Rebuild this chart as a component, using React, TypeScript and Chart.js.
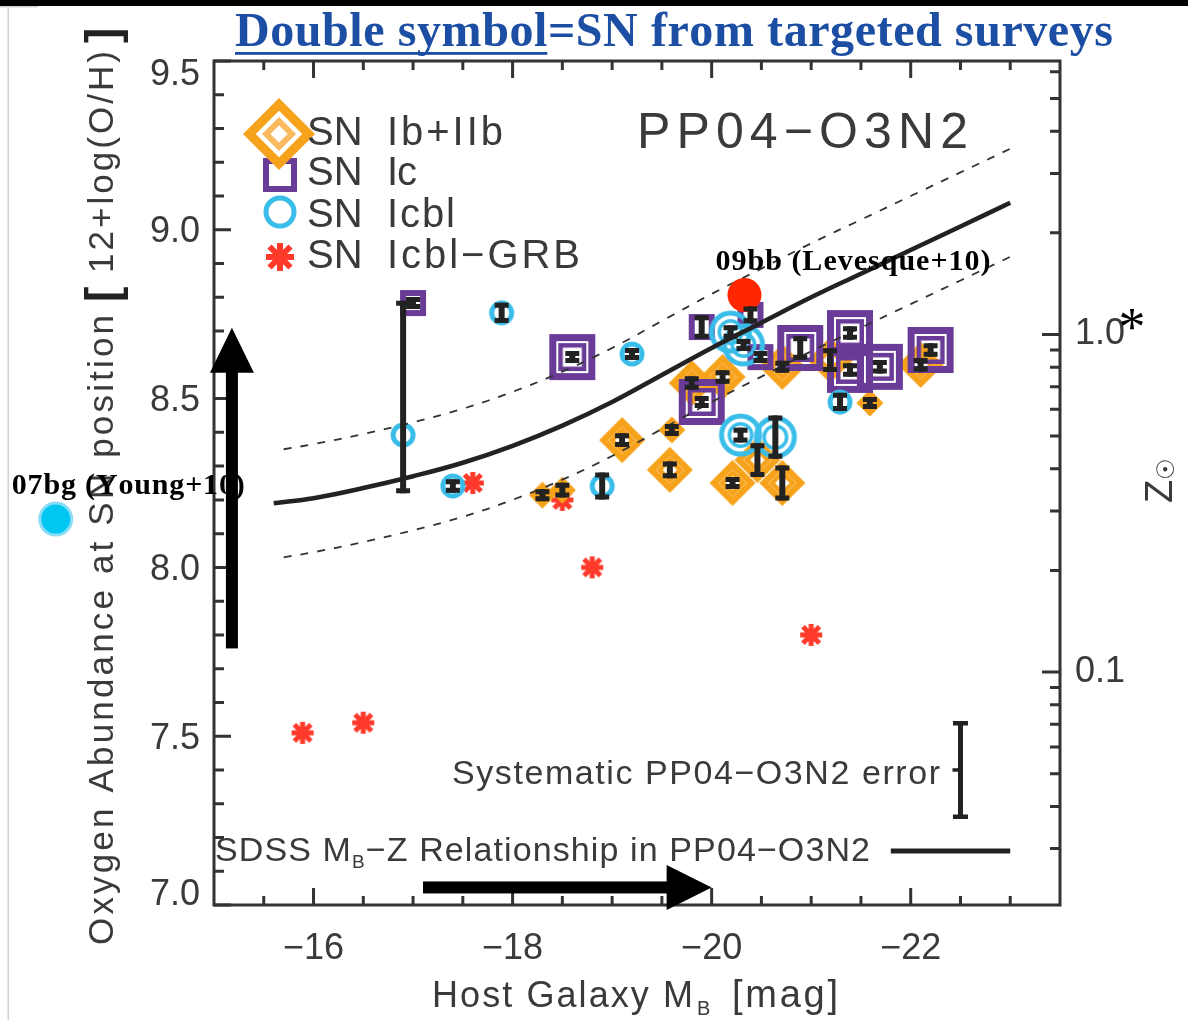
import React, { useEffect, useRef } from 'react';
import { Chart, registerables } from 'chart.js';

Chart.register(...registerables);

const W = 1188;
const H = 1020;

// ---------------- axes ----------------
const X_MIN = -23.5;
const X_MAX = -15.0;
const Y_MIN = 7.0;
const Y_MAX = 9.5;
const OH_SOLAR = 8.69;
const X_TICK_LABELS = [-16, -18, -20, -22];
const X_MINOR_TICKS = [-15.5, -16.5, -17, -17.5, -18.5, -19, -19.5, -20.5, -21, -21.5, -22.5, -23];
const Y_TICK_LABELS = [7.0, 7.5, 8.0, 8.5, 9.0, 9.5];
const Y_MINOR_TICKS = [7.1, 7.2, 7.3, 7.4, 7.6, 7.7, 7.8, 7.9, 8.1, 8.2, 8.3, 8.4, 8.6, 8.7, 8.8, 8.9, 9.1, 9.2, 9.3, 9.4];
const Z_TICK_LABELS = [0.1, 1.0];
const Z_MINOR_TICKS = [0.03, 0.04, 0.05, 0.06, 0.07, 0.08, 0.09, 0.2, 0.3, 0.4, 0.5, 0.6, 0.7, 0.8, 0.9, 2, 3, 4, 5, 6];

// ---------------- SDSS M_B - Z relation ----------------
const CURVE_MB = [-15.6, -16.0, -16.5, -17.0, -17.5, -18.0, -18.5, -19.0, -19.5, -20.0, -20.5, -21.0, -21.5, -22.0, -22.5, -23.0];
const CURVE_OH = [8.19, 8.205, 8.235, 8.27, 8.31, 8.36, 8.42, 8.49, 8.57, 8.65, 8.725, 8.80, 8.87, 8.94, 9.01, 9.08];
const BAND_MB = [-15.7, -16.0, -16.5, -17.0, -17.5, -18.0, -18.5, -19.0, -19.5, -20.0, -20.5, -21.0, -21.5, -22.0, -22.5, -23.0];
const UPPER_OH = [8.35, 8.365, 8.395, 8.43, 8.47, 8.52, 8.58, 8.65, 8.73, 8.81, 8.885, 8.96, 9.03, 9.10, 9.17, 9.24];
const LOWER_OH = [8.03, 8.045, 8.075, 8.11, 8.15, 8.20, 8.26, 8.33, 8.41, 8.49, 8.565, 8.64, 8.71, 8.78, 8.85, 8.92];

// ---------------- SN Ib + IIb ----------------
const IB_MB = [-18.30, -18.50, -19.10, -19.60, -19.58, -19.80, -20.11, -20.21, -20.46, -20.71, -20.71, -21.19, -21.59, -22.10];
const IB_OH = [8.214, 8.229, 8.377, 8.407, 8.289, 8.546, 8.564, 8.250, 8.318, 8.250, 8.594, 8.614, 8.487, 8.600];
const IB_TARGETED = [0, 0, 1, 0, 1, 1, 1, 1, 1, 1, 1, 1, 0, 1];
const IB_ERR = [0.015, 0.022, 0.02, 0.015, 0.025, 0.02, 0.02, 0.015, 0.05, 0.052, 0.015, 0.035, 0.015, 0.02];

// ---------------- SN Ic ----------------
const IC_MB = [-17.00, -18.60, -19.90, -20.39, -19.90, -20.49, -20.89, -21.39, -21.39, -21.69, -22.20];
const IC_OH = [8.783, 8.623, 8.712, 8.748, 8.490, 8.623, 8.650, 8.694, 8.585, 8.594, 8.644];
const IC_TARGETED = [0, 1, 0, 0, 1, 0, 1, 1, 1, 1, 1];
const IC_ERR = [0.015, 0.015, 0.035, 0.025, 0.015, 0.015, 0.035, 0.02, 0.02, 0.02, 0.02];

// ---------------- SN Icbl ----------------
const ICBL_MB = [-16.90, -17.89, -17.40, -19.20, -18.90, -20.19, -20.32, -20.29, -20.64, -21.29];
const ICBL_OH = [8.392, 8.754, 8.241, 8.632, 8.241, 8.697, 8.659, 8.392, 8.386, 8.490];
const ICBL_TARGETED = [0, 0, 0, 0, 0, 1, 1, 1, 1, 0];
const ICBL_ERR = [0, 0.03, 0.02, 0.015, 0.04, 0.02, 0.015, 0.022, 0.064, 0.027];

// ---------------- SN Icbl-GRB ----------------
const GRB_MB = [-15.89, -16.50, -17.60, -18.50, -18.80, -21.00];
const GRB_OH = [7.51, 7.54, 8.25, 8.20, 8.00, 7.80];

// ---------------- range bar, systematic error, special SNe ----------------
const RANGE_MB = [-16.9];
const RANGE_LO = [8.22];
const RANGE_HI = [8.79];
const SYS_MB = -22.5;
const SYS_OH = 7.40;
const SYS_ERR = 0.145;
const SN09BB_MB = [-20.33];
const SN09BB_OH = [8.807];
const SN07BG_MB = -13.41;
const SN07BG_OH = 8.143;
const SDSS_KEY_MB = [-21.8, -23.0];
const SDSS_KEY_OH = 7.16;
const ARROW_UP_MB = -15.18;
const ARROW_UP_OH = [7.76, 8.71];
const ARROW_RIGHT_OH = 7.052;
const ARROW_RIGHT_MB = [-17.1, -20.0];

// ---------------- styles ----------------
const SANS = "'Liberation Sans', Arial, Helvetica, sans-serif";
const SERIF = "'Liberation Serif', 'Times New Roman', serif";
const TEXT = '#3a3a3a';
const AXIS = '#333333';
const INK = '#222222';
const ORANGE = '#F7A21B';
const ORANGE_LIGHT = '#FBBA5E';
const PURPLE = '#6A3B97';
const BLUE = '#3ABDE9';
const RED = '#FF3A2A';
const TITLE_BLUE = '#1C4EA3';

// ---------------- drawing helpers ----------------
function diamondPath(g: CanvasRenderingContext2D, cx: number, cy: number, h: number) {
  g.beginPath();
  g.moveTo(cx, cy - h);
  g.lineTo(cx + h, cy);
  g.lineTo(cx, cy + h);
  g.lineTo(cx - h, cy);
  g.closePath();
}
function strokeDiamond(g: CanvasRenderingContext2D, cx: number, cy: number, ext: number, lw: number, color: string) {
  g.lineJoin = 'miter';
  g.lineWidth = lw;
  g.strokeStyle = color;
  diamondPath(g, cx, cy, ext - lw * Math.SQRT1_2);
  g.stroke();
}
function fillDiamond(g: CanvasRenderingContext2D, cx: number, cy: number, ext: number, color: string) {
  g.fillStyle = color;
  diamondPath(g, cx, cy, ext);
  g.fill();
}
function strokeSquare(g: CanvasRenderingContext2D, cx: number, cy: number, ext: number, lw: number, color: string) {
  const h = ext - lw / 2;
  g.lineJoin = 'miter';
  g.lineWidth = lw;
  g.strokeStyle = color;
  g.strokeRect(cx - h, cy - h, 2 * h, 2 * h);
}
function strokeCircle(g: CanvasRenderingContext2D, cx: number, cy: number, ext: number, lw: number, color: string) {
  g.lineWidth = lw;
  g.strokeStyle = color;
  g.beginPath();
  g.arc(cx, cy, ext - lw / 2, 0, Math.PI * 2);
  g.stroke();
}
function drawStar(g: CanvasRenderingContext2D, cx: number, cy: number, half: number, lw: number, color: string) {
  const d = half * 0.75;
  g.lineWidth = lw;
  g.strokeStyle = color;
  g.lineCap = 'butt';
  g.beginPath();
  g.moveTo(cx - half, cy); g.lineTo(cx + half, cy);
  g.moveTo(cx, cy - half); g.lineTo(cx, cy + half);
  g.moveTo(cx - d, cy - d); g.lineTo(cx + d, cy + d);
  g.moveTo(cx - d, cy + d); g.lineTo(cx + d, cy - d);
  g.stroke();
}
function mk(size: number, fn: (g: CanvasRenderingContext2D, cx: number, cy: number) => void) {
  const c = document.createElement('canvas');
  c.width = size;
  c.height = size;
  const g = c.getContext('2d') as CanvasRenderingContext2D;
  fn(g, size / 2, size / 2);
  return c;
}
function buildMarkers() {
  return {
    diamondD: mk(52, (g, cx, cy) => { strokeDiamond(g, cx, cy, 23, 6.5, ORANGE); strokeDiamond(g, cx, cy, 13.5, 4.5, ORANGE); }),
    diamondS: mk(32, (g, cx, cy) => { fillDiamond(g, cx, cy, 13.5, ORANGE); }),
    squareD: mk(52, (g, cx, cy) => { strokeSquare(g, cx, cy, 23, 7, PURPLE); strokeSquare(g, cx, cy, 14, 4.5, PURPLE); }),
    squareS: mk(32, (g, cx, cy) => { strokeSquare(g, cx, cy, 13, 6, PURPLE); }),
    circleD: mk(52, (g, cx, cy) => { strokeCircle(g, cx, cy, 21.5, 5, BLUE); strokeCircle(g, cx, cy, 13, 3.5, BLUE); }),
    circleS: mk(32, (g, cx, cy) => { strokeCircle(g, cx, cy, 12.5, 5, BLUE); }),
    star: mk(32, (g, cx, cy) => { drawStar(g, cx, cy, 11, 5, RED); }),
  };
}

function charsWidth(ctx: CanvasRenderingContext2D, s: string) {
  let w = 0;
  for (const ch of Array.from(s)) w += ctx.measureText(ch).width;
  return w;
}
function lsFor(ctx: CanvasRenderingContext2D, s: string, target: number) {
  const n = Array.from(s).length;
  return n > 1 ? (target - charsWidth(ctx, s)) / (n - 1) : 0;
}
function drawLS(ctx: CanvasRenderingContext2D, s: string, x: number, y: number, ls: number) {
  let cx = x;
  for (const ch of Array.from(s)) {
    ctx.fillText(ch, cx, y);
    cx += ctx.measureText(ch).width + ls;
  }
  return cx - ls;
}
function errBar(ctx: CanvasRenderingContext2D, px: number, top: number, bot: number, capW: number, lw: number, capLw: number) {
  ctx.strokeStyle = INK;
  ctx.lineCap = 'butt';
  ctx.lineWidth = lw;
  ctx.beginPath();
  ctx.moveTo(px, top);
  ctx.lineTo(px, bot);
  ctx.stroke();
  ctx.lineWidth = capLw;
  ctx.beginPath();
  ctx.moveTo(px - capW / 2, top + capLw / 2);
  ctx.lineTo(px + capW / 2, top + capLw / 2);
  ctx.moveTo(px - capW / 2, bot - capLw / 2);
  ctx.lineTo(px + capW / 2, bot - capLw / 2);
  ctx.stroke();
}

const decorPlugin = {
  id: 'decor',
  beforeDraw(chart: any) {
    const ctx: CanvasRenderingContext2D = chart.ctx;
    ctx.save();
    ctx.fillStyle = '#ffffff';
    ctx.fillRect(0, 0, W, H);
    ctx.fillStyle = '#000000';
    ctx.fillRect(0, 0, W, 6);
    ctx.fillStyle = '#d2d2d2';
    ctx.fillRect(7.5, 6, 1.5, H - 6);
    ctx.fillRect(0, 6, 38, 1.5);

    ctx.textAlign = 'left';
    ctx.textBaseline = 'alphabetic';

    // title
    ctx.font = `bold 48px ${SERIF}`;
    ctx.fillStyle = TITLE_BLUE;
    const title = 'Double symbol=SN from targeted surveys';
    const tls = lsFor(ctx, title, 878);
    const uEnd = drawLS(ctx, 'Double symbol', 235, 46, tls);
    drawLS(ctx, '=SN from targeted surveys', uEnd + tls, 46, tls);
    ctx.fillRect(235, 52, uEnd - 235, 2.8);

    // left axis title
    ctx.fillStyle = TEXT;
    ctx.save();
    ctx.translate(113, 945);
    ctx.rotate(-Math.PI / 2);
    ctx.font = `35px ${SANS}`;
    const p1 = 'Oxygen Abundance at SN position';
    drawLS(ctx, p1, 0, 0, lsFor(ctx, p1, 630));
    ctx.font = `bold 46px ${SANS}`;
    ctx.fillStyle = INK;
    ctx.fillText('[', 643, 5);
    ctx.fillStyle = TEXT;
    ctx.font = `35px ${SANS}`;
    const p2 = '12+log(O/H)';
    drawLS(ctx, p2, 672, 0, lsFor(ctx, p2, 222));
    ctx.font = `bold 46px ${SANS}`;
    ctx.fillStyle = INK;
    ctx.fillText(']', 902, 5);
    ctx.restore();

    // bottom axis title
    ctx.fillStyle = TEXT;
    ctx.font = `36px ${SANS}`;
    const xt = 'Host Galaxy M';
    drawLS(ctx, xt, 432, 1007, lsFor(ctx, xt, 261));
    ctx.font = `20px ${SANS}`;
    ctx.fillText('B', 697, 1015);
    ctx.font = `38px ${SANS}`;
    const xt2 = '[mag]';
    drawLS(ctx, xt2, 732, 1007, lsFor(ctx, xt2, 106));

    // right axis title
    ctx.save();
    ctx.translate(1172, 503);
    ctx.rotate(-Math.PI / 2);
    ctx.font = `38px ${SANS}`;
    ctx.fillText('Z', 0, 0);
    ctx.font = `24px 'DejaVu Sans', sans-serif`;
    ctx.textBaseline = 'middle';
    ctx.fillText('\u2609', 23, -4);
    ctx.restore();
    ctx.restore();
  },
  afterDatasetsDraw(chart: any) {
    const ctx: CanvasRenderingContext2D = chart.ctx;
    const xs = chart.scales.x;
    const ys = chart.scales.y;
    const zs = chart.scales.y2;
    const ca = chart.chartArea;
    ctx.save();

    // individual error bars
    chart.data.datasets.forEach((ds: any) => {
      if (!ds.yErr) return;
      ds.data.forEach((p: any, i: number) => {
        const e = ds.yErr[i];
        if (!e) return;
        const px = xs.getPixelForValue(p.x);
        const py = ys.getPixelForValue(p.y);
        const top = Math.min(ys.getPixelForValue(p.y + e), py - 6);
        const bot = Math.max(ys.getPixelForValue(p.y - e), py + 6);
        errBar(ctx, px, top, bot, 14, 6, 5);
      });
    });
    // range bar
    RANGE_MB.forEach((m, i) => {
      errBar(ctx, xs.getPixelForValue(m), ys.getPixelForValue(RANGE_HI[i]), ys.getPixelForValue(RANGE_LO[i]), 14, 6, 5);
    });

    // frame and inward ticks
    const L = ca.left, R = ca.right, T = ca.top, B = ca.bottom;
    ctx.strokeStyle = AXIS;
    ctx.lineWidth = 3;
    ctx.lineCap = 'butt';
    ctx.beginPath();
    X_TICK_LABELS.forEach((v) => { const p = xs.getPixelForValue(v); ctx.moveTo(p, B); ctx.lineTo(p, B - 17); ctx.moveTo(p, T); ctx.lineTo(p, T + 17); });
    X_MINOR_TICKS.forEach((v) => { const p = xs.getPixelForValue(v); ctx.moveTo(p, B); ctx.lineTo(p, B - 9); ctx.moveTo(p, T); ctx.lineTo(p, T + 9); });
    Y_TICK_LABELS.forEach((v) => { const p = ys.getPixelForValue(v); ctx.moveTo(L, p); ctx.lineTo(L + 17, p); });
    Y_MINOR_TICKS.forEach((v) => { const p = ys.getPixelForValue(v); ctx.moveTo(L, p); ctx.lineTo(L + 10, p); });
    Z_TICK_LABELS.forEach((v) => { const p = zs.getPixelForValue(v); ctx.moveTo(R, p); ctx.lineTo(R - 18, p); });
    Z_MINOR_TICKS.forEach((v) => { const p = zs.getPixelForValue(v); if (p > T && p < B) { ctx.moveTo(R, p); ctx.lineTo(R - 10, p); } });
    ctx.stroke();
    ctx.strokeRect(L, T, R - L, B - T);

    // legend
    strokeSquare(ctx, 280, 175, 17, 6, PURPLE);
    ctx.fillStyle = '#ffffff';
    diamondPath(ctx, 279, 134, 33);
    ctx.fill();
    strokeDiamond(ctx, 279, 134, 36, 9, ORANGE);
    strokeDiamond(ctx, 279, 134, 17, 6, ORANGE_LIGHT);
    strokeCircle(ctx, 280, 212, 16.5, 5, BLUE);
    drawStar(ctx, 280, 257, 14, 6, RED);
    ctx.fillStyle = TEXT;
    ctx.textAlign = 'left';
    ctx.textBaseline = 'alphabetic';
    ctx.font = `40px ${SANS}`;
    const rows: [string, number, number][] = [['Ib+IIb', 145, 116], ['Ic', 185, 30], ['Icbl', 227, 68], ['Icbl\u2212GRB', 268, 193]];
    rows.forEach(([name, base, w]) => {
      drawLS(ctx, 'SN', 307, base, 0);
      drawLS(ctx, name, 387, base, lsFor(ctx, name, w));
    });

    // method label
    ctx.font = `50px ${SANS}`;
    const meth = 'PP04\u2212O3N2';
    drawLS(ctx, meth, 637, 148, lsFor(ctx, meth, 331));

    // systematic error
    ctx.font = `34px ${SANS}`;
    const sys = 'Systematic PP04\u2212O3N2 error';
    drawLS(ctx, sys, 452, 784, lsFor(ctx, sys, 488));
    const sx = xs.getPixelForValue(SYS_MB);
    const sy = ys.getPixelForValue(SYS_OH);
    errBar(ctx, sx, ys.getPixelForValue(SYS_OH + SYS_ERR), ys.getPixelForValue(SYS_OH - SYS_ERR), 15, 5, 4.5);
    ctx.lineWidth = 3.5;
    ctx.beginPath();
    ctx.moveTo(sx - 8, sy);
    ctx.lineTo(sx, sy);
    ctx.stroke();

    // SDSS relation key
    const a = 'SDSS M', b = 'B', c = '\u2212Z Relationship in PP04\u2212O3N2';
    ctx.font = `34px ${SANS}`;
    const wa = charsWidth(ctx, a), wc = charsWidth(ctx, c);
    ctx.font = `19px ${SANS}`;
    const wb = charsWidth(ctx, b);
    const n = Array.from(a).length + Array.from(b).length + Array.from(c).length;
    const ls2 = (655 - wa - wb - wc) / (n - 1);
    let x = 215;
    ctx.font = `34px ${SANS}`;
    x = drawLS(ctx, a, x, 861, ls2) + ls2;
    ctx.font = `19px ${SANS}`;
    x = drawLS(ctx, b, x, 868, ls2) + ls2;
    ctx.font = `34px ${SANS}`;
    drawLS(ctx, c, x, 861, ls2);
    ctx.strokeStyle = INK;
    ctx.lineWidth = 5;
    ctx.beginPath();
    ctx.moveTo(xs.getPixelForValue(SDSS_KEY_MB[0]), ys.getPixelForValue(SDSS_KEY_OH));
    ctx.lineTo(xs.getPixelForValue(SDSS_KEY_MB[1]), ys.getPixelForValue(SDSS_KEY_OH));
    ctx.stroke();

    // Zsun asterisk
    ctx.fillStyle = '#000000';
    ctx.font = `54px ${SERIF}`;
    ctx.textAlign = 'center';
    ctx.fillText('*', 1132, 345);
    ctx.textAlign = 'left';

    // 07bg (outside the frame)
    const bx = xs.getPixelForValue(SN07BG_MB);
    const by = ys.getPixelForValue(SN07BG_OH);
    ctx.fillStyle = '#00C6F2';
    ctx.strokeStyle = '#8BDDF6';
    ctx.lineWidth = 3;
    ctx.beginPath();
    ctx.arc(bx, by, 16, 0, Math.PI * 2);
    ctx.fill();
    ctx.stroke();

    // arrows
    ctx.fillStyle = '#000000';
    const ax = xs.getPixelForValue(ARROW_UP_MB);
    const ay0 = ys.getPixelForValue(ARROW_UP_OH[0]);
    const ay1 = ys.getPixelForValue(ARROW_UP_OH[1]);
    ctx.fillRect(ax - 6, ay1 + 44, 12, ay0 - ay1 - 44);
    ctx.beginPath();
    ctx.moveTo(ax, ay1);
    ctx.lineTo(ax + 22, ay1 + 45);
    ctx.lineTo(ax - 22, ay1 + 45);
    ctx.closePath();
    ctx.fill();
    const hy = ys.getPixelForValue(ARROW_RIGHT_OH);
    const hx0 = xs.getPixelForValue(ARROW_RIGHT_MB[0]);
    const hx1 = xs.getPixelForValue(ARROW_RIGHT_MB[1]);
    ctx.fillRect(hx0, hy - 6, hx1 - hx0 - 44, 12);
    ctx.beginPath();
    ctx.moveTo(hx1, hy);
    ctx.lineTo(hx1 - 45, hy - 22.5);
    ctx.lineTo(hx1 - 45, hy + 22.5);
    ctx.closePath();
    ctx.fill();

    // special SN labels
    ctx.fillStyle = '#000000';
    ctx.font = `bold 30px ${SERIF}`;
    const l1 = '09bb (Levesque+10)';
    const rx = xs.getPixelForValue(SN09BB_MB[0]);
    const ry = ys.getPixelForValue(SN09BB_OH[0]);
    drawLS(ctx, l1, rx - 29, ry - 25, lsFor(ctx, l1, 275));
    const l2 = '07bg (Young+10)';
    drawLS(ctx, l2, bx - 44, by - 25, lsFor(ctx, l2, 233));

    ctx.restore();
  },
};

function pts(xa: number[], ya: number[]) {
  return xa.map((x, i) => ({ x, y: ya[i] }));
}

export default function App() {
  const ref = useRef<HTMLCanvasElement>(null);
  useEffect(() => {
    const canvas = ref.current;
    if (!canvas) return;
    const M = buildMarkers();
    const tickFont = { family: SANS, size: 36, lineHeight: 1.2 };
    const chart = new Chart(canvas, {
      type: 'scatter',
      data: {
        datasets: [
          { label: 'SN 09bb', data: pts(SN09BB_MB, SN09BB_OH), pointStyle: 'circle', pointRadius: 17, pointHoverRadius: 17, pointBackgroundColor: '#FF2600', pointBorderWidth: 0, order: 1 } as any,
          { label: 'SDSS', data: pts(CURVE_MB, CURVE_OH), showLine: true, pointRadius: 0, pointHoverRadius: 0, borderColor: INK, borderWidth: 4.5, tension: 0.4, fill: false, order: 2 } as any,
          { label: 'SDSS upper', data: pts(BAND_MB, UPPER_OH), showLine: true, pointRadius: 0, pointHoverRadius: 0, borderColor: '#333333', borderWidth: 1.8, borderDash: [8, 9], tension: 0.4, fill: false, order: 2 } as any,
          { label: 'SDSS lower', data: pts(BAND_MB, LOWER_OH), showLine: true, pointRadius: 0, pointHoverRadius: 0, borderColor: '#333333', borderWidth: 1.8, borderDash: [8, 9], tension: 0.4, fill: false, order: 2 } as any,
          { label: 'SN Icbl', data: pts(ICBL_MB, ICBL_OH), pointStyle: (c: any) => (ICBL_TARGETED[c.dataIndex] ? M.circleD : M.circleS), pointRadius: 14, pointHoverRadius: 14, order: 3, yErr: ICBL_ERR } as any,
          { label: 'SN Ic', data: pts(IC_MB, IC_OH), pointStyle: (c: any) => (IC_TARGETED[c.dataIndex] ? M.squareD : M.squareS), pointRadius: 14, pointHoverRadius: 14, order: 4, yErr: IC_ERR } as any,
          { label: 'SN Ib+IIb', data: pts(IB_MB, IB_OH), pointStyle: (c: any) => (IB_TARGETED[c.dataIndex] ? M.diamondD : M.diamondS), pointRadius: 14, pointHoverRadius: 14, order: 5, yErr: IB_ERR } as any,
          { label: 'SN Icbl-GRB', data: pts(GRB_MB, GRB_OH), pointStyle: M.star, pointRadius: 11, pointHoverRadius: 11, order: 6 } as any,
        ],
      },
      options: {
        animation: false,
        responsive: false,
        devicePixelRatio: 1,
        events: [],
        layout: { padding: { top: 61, left: 0, right: 0, bottom: 0 } },
        plugins: {
          legend: { display: false },
          tooltip: { enabled: false },
        },
        scales: {
          x: {
            type: 'linear',
            position: 'bottom',
            reverse: true,
            min: X_MIN,
            max: X_MAX,
            grid: { display: false, drawTicks: false },
            border: { display: false },
            afterBuildTicks: (s: any) => { s.ticks = X_TICK_LABELS.map((v) => ({ value: v })); },
            afterFit: (s: any) => { s.height = H - 905; },
            ticks: {
              autoSkip: false,
              maxRotation: 0,
              minRotation: 0,
              padding: 22,
              color: TEXT,
              font: tickFont,
              callback: (v: any) => '\u2212' + Math.abs(Number(v)),
            },
          },
          y: {
            type: 'linear',
            position: 'left',
            min: Y_MIN,
            max: Y_MAX,
            grid: { display: false, drawTicks: false },
            border: { display: false },
            afterBuildTicks: (s: any) => { s.ticks = Y_TICK_LABELS.map((v) => ({ value: v })); },
            afterFit: (s: any) => { s.width = 214; },
            ticks: {
              autoSkip: false,
              padding: 14,
              color: TEXT,
              font: (c: any) => {
                const v = c && c.tick ? c.tick.value : 8;
                const lh = v >= 9.49 ? '28px' : v <= 7.01 ? '20px' : '5px';
                return { family: SANS, size: 36, lineHeight: lh };
              },
              callback: (v: any) => {
                const s = Number(v).toFixed(1);
                return Number(v) <= 7.01 ? [s, ''] : ['', s];
              },
            },
          },
          y2: {
            type: 'logarithmic',
            axis: 'y',
            position: 'right',
            min: Math.pow(10, Y_MIN - OH_SOLAR),
            max: Math.pow(10, Y_MAX - OH_SOLAR),
            grid: { display: false, drawTicks: false },
            border: { display: false },
            afterBuildTicks: (s: any) => { s.ticks = Z_TICK_LABELS.map((v) => ({ value: v })); },
            afterFit: (s: any) => { s.width = W - 1060; },
            ticks: {
              autoSkip: false,
              padding: 15,
              color: TEXT,
              font: tickFont,
              callback: (v: any) => Number(v).toFixed(1),
            },
          },
        },
      } as any,
      plugins: [decorPlugin as any],
    });
    return () => chart.destroy();
  }, []);

  return (
    <div style={{ position: 'fixed', left: 0, top: 0, width: W, height: H, background: '#ffffff', margin: 0, padding: 0 }}>
      <canvas ref={ref} width={W} height={H} style={{ display: 'block', width: W, height: H }} />
    </div>
  );
}
